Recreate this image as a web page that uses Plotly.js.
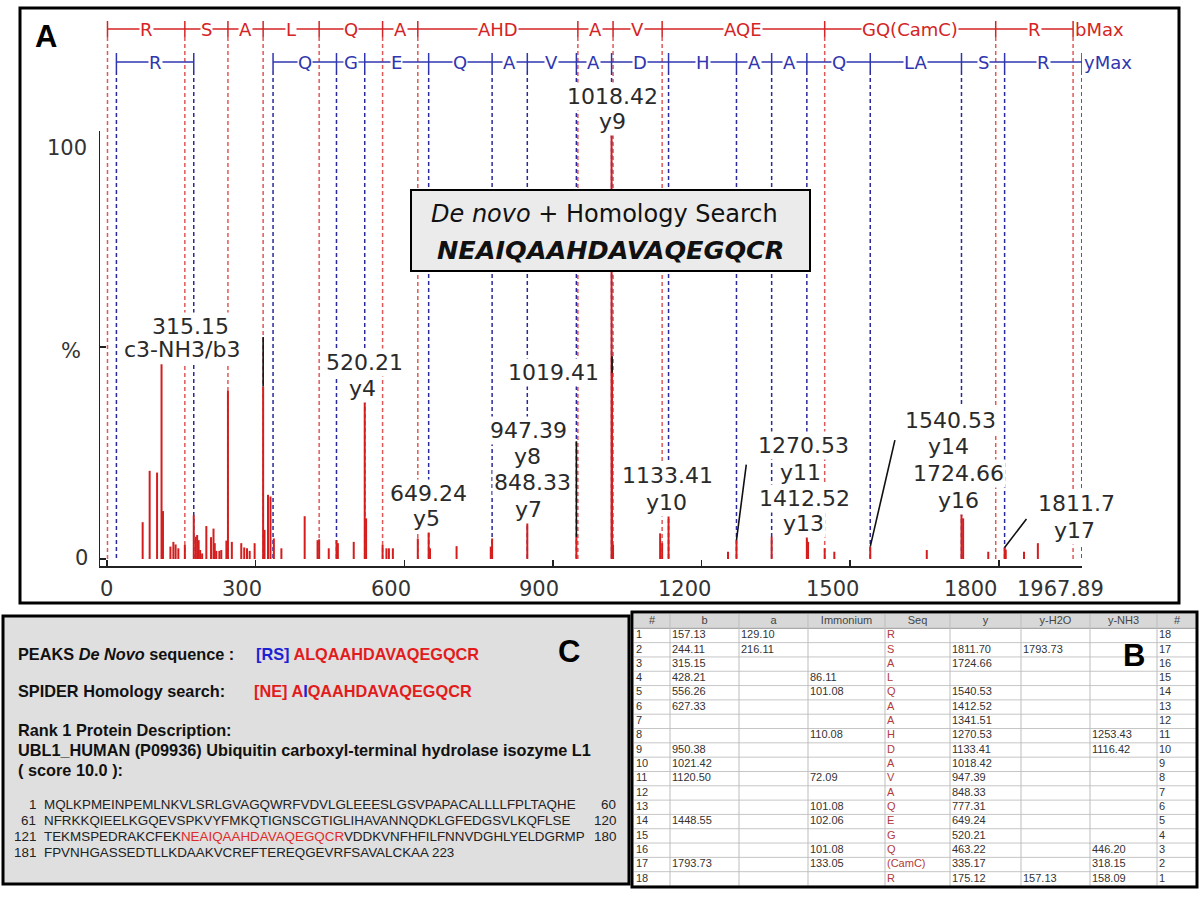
<!DOCTYPE html>
<html><head><meta charset="utf-8">
<script src="https://cdn.plot.ly/plotly-3.0.1.min.js"></script>
<style>html,body{margin:0;padding:0;background:#fff}</style>
</head><body>
<div id="chart" style="width:1200px;height:900px"></div>
<script>
// ---------------- DATA ----------------
const peakMz = [72, 86.11, 101.08, 110.08, 113, 128, 134, 138.5, 144, 157.13,
  175.12, 179, 182, 185, 188, 192, 200.5, 210, 215, 217.5, 220.6, 226.8, 230.7,
  241, 244.11, 252, 271, 277, 282.6, 288, 298, 315.15, 318, 325, 330, 336.8, 352,
  399, 425, 428.21, 447.6, 463.22, 466, 498, 520.21, 523, 556.26, 564, 569, 577,
  627.33, 649.24, 652, 705.6, 774.6, 777.31, 848.33, 947.39, 1018.42, 1019.41, 1021.4,
  1116.42, 1120.5, 1133.41, 1253.43, 1270.53, 1341.51, 1412.52, 1415, 1448.55, 1468,
  1540.53, 1654.6, 1724.66, 1728, 1778.7, 1811.7, 1814, 1850.8, 1878.8];
const peakIntensity = [8.6, 20.6, 20.2, 45.5, 11.2, 2.9, 4.0, 3.4, 2.5, 3.3,
  10.2, 5.2, 5.6, 4.4, 2.1, 1.3, 7.7, 5.1, 7.1, 3.7, 1.9, 1.9, 2.1,
  4.3, 39.3, 4.0, 3.7, 2.7, 2.5, 1.9, 3.7, 40.3, 6.8, 15.0, 14.6, 4.8, 2.5,
  10.0, 4.4, 4.6, 2.5, 4.4, 3.7, 4.0, 37.5, 9.5, 3.3, 2.5, 2.5, 2.5,
  4.8, 6.9, 2.5, 3.0, 2.9, 4.8, 9.5, 5.2, 100, 45, 3.3,
  6.0, 3.7, 11.1, 1.7, 4.4, 5.2, 5.2, 4.0, 2.5, 1.7,
  2.9, 2.1, 11.1, 9.5, 1.7, 2.7, 2.2, 1.7, 3.7];

const bIonMz = [1.01, 157.13, 244.11, 315.15, 428.21, 556.26, 627.33, 950.38, 1021.42, 1120.50, 1448.55, 1793.73, 1949.88];
const bIonLabels = ['R', 'S', 'A', 'L', 'Q', 'A', 'AHD', 'A', 'V', 'AQE', 'GQ(CamC)', 'R'];
const yIonMz = [19.02, 175.12, 335.17, 463.22, 520.21, 649.24, 777.31, 848.33, 947.39, 1018.42, 1133.41, 1270.53, 1341.51, 1412.52, 1540.53, 1724.66, 1811.70, 1967.80];
const yIonLabels = ['R', '', 'Q', 'G', 'E', 'Q', 'A', 'V', 'A', 'D', 'H', 'A', 'A', 'Q', 'LA', 'S', 'R'];

const xTickVals = [0, 300, 600, 900, 1200, 1500, 1800, 1967.89];
const xTickText = ['0', '300', '600', '900', '1200', '1500', '1800', '1967.89'];
const yTickVals = [0, 49.5, 100];
const yTickText = ['0', '%', '100'];

// leader lines: target peak (m/z, intensity)
const leaderMz = [315.15, 1019.41, 947.39, 1270.53, 1540.53, 1811.7];
const leaderIntensity = [40.3, 43.5, 5.2, 4.4, 2.9, 2.7];

// table B
const tableHeader = ['#', 'b', 'a', 'Immonium', 'Seq', 'y', 'y-H2O', 'y-NH3', '#'];
const tableIndex = ['1','2','3','4','5','6','7','8','9','10','11','12','13','14','15','16','17','18'];
const tableB = ['157.13','244.11','315.15','428.21','556.26','627.33','','','950.38','1021.42','1120.50','','','1448.55','','','1793.73',''];
const tableA = ['129.10','216.11','','','','','','','','','','','','','','','',''];
const tableImmonium = ['','','','86.11','101.08','','','110.08','','','72.09','','101.08','102.06','','101.08','133.05',''];
const tableSeq = ['R','S','A','L','Q','A','A','H','D','A','V','A','Q','E','G','Q','(CamC)','R'];
const tableY = ['','1811.70','1724.66','','1540.53','1412.52','1341.51','1270.53','1133.41','1018.42','947.39','848.33','777.31','649.24','520.21','463.22','335.17','175.12'];
const tableYH2O = ['','1793.73','','','','','','','','','','','','','','','','157.13'];
const tableYNH3 = ['','','','','','','','1253.43','1116.42','','','','','','','446.20','318.15','158.09'];
const tableIndexRev = ['18','17','16','15','14','13','12','11','10','9','8','7','6','5','4','3','2','1'];

// panel C texts
const deNovoSeq = 'ALQAAHDAVAQEGQCR';
const homologySeq = 'IQAAHDAVAQEGQCR';
const proteinSeqLines = [
  ['1', 'MQLKPMEINPEMLNKVLSRLGVAGQWRFVDVLGLEEESLGSVPAPACALLLLFPLTAQHE', '60'],
  ['61', 'NFRKKQIEELKGQEVSPKVYFMKQTIGNSCGTIGLIHAVANNQDKLGFEDGSVLKQFLSE', '120'],
  ['121', 'TEKMSPEDRAKCFEK|NEAIQAAHDAVAQEGQCR|VDDKVNFHFILFNNVDGHLYELDGRMP', '180'],
  ['181', 'FPVNHGASSEDTLLKDAAKVCREFTEREQGEVRFSAVALCKAA 223', '']
];

// ---------------- LAYOUT HELPERS ----------------
const PX = x => x / 1200;
const PY = y => 1 - y / 900;
const FA = 'DejaVu Sans';
const FC = 'Liberation Sans';
const RED = '#d42424', BLUE = '#2f36b0';

const shapes = [];
const annotations = [];
function note(o) { annotations.push(Object.assign({showarrow: false, xanchor: 'center', yanchor: 'middle'}, o)); }

// dashed ladder lines
bIonMz.forEach(m => shapes.push({type: 'line', xref: 'x', yref: 'paper', x0: m, x1: m, y0: PY(37), y1: PY(559),
  line: {color: '#e05858', width: 1.5, dash: '4px,3px'}, layer: 'below'}));
yIonMz.forEach(m => shapes.push({type: 'line', xref: 'x', yref: 'paper', x0: m, x1: m, y0: PY(71), y1: PY(559),
  line: {color: '#2a2a9c', width: 1.5, dash: '4px,3px'}, layer: 'below'}));

// ladder rows
const redRowY = 29, blueRowY = 62;
shapes.push({type: 'line', xref: 'x', yref: 'paper', x0: bIonMz[0], x1: bIonMz[bIonMz.length - 1], y0: PY(redRowY), y1: PY(redRowY), line: {color: RED, width: 1.3}});
bIonMz.forEach(m => shapes.push({type: 'line', xref: 'x', yref: 'paper', x0: m, x1: m, y0: PY(21), y1: PY(37), line: {color: RED, width: 1.5}}));
yIonLabels.forEach((lab, i) => { if (lab) shapes.push({type: 'line', xref: 'x', yref: 'paper', x0: yIonMz[i], x1: yIonMz[i + 1], y0: PY(blueRowY), y1: PY(blueRowY), line: {color: BLUE, width: 1.3}}); });
yIonMz.forEach(m => shapes.push({type: 'line', xref: 'x', yref: 'paper', x0: m, x1: m, y0: PY(53), y1: PY(71), line: {color: BLUE, width: 1.5}}));

bIonLabels.forEach((lab, i) => note({xref: 'x', yref: 'paper', x: (bIonMz[i] + bIonMz[i + 1]) / 2, y: PY(redRowY),
  text: lab, bgcolor: '#ffffff', borderpad: 0, font: {family: FA, size: 18, color: RED}}));
note({xref: 'x', yref: 'paper', x: bIonMz[bIonMz.length - 1], y: PY(redRowY), xanchor: 'left', xshift: 1,
  text: 'bMax', bgcolor: '#ffffff', borderpad: 0, font: {family: FA, size: 18, color: RED}});
yIonLabels.forEach((lab, i) => { if (lab) note({xref: 'x', yref: 'paper', x: (yIonMz[i] + yIonMz[i + 1]) / 2, y: PY(blueRowY),
  text: lab, bgcolor: '#ffffff', borderpad: 0, font: {family: FA, size: 18, color: BLUE}}); });
note({xref: 'x', yref: 'paper', x: yIonMz[yIonMz.length - 1], y: PY(blueRowY), xanchor: 'left', xshift: 1,
  text: 'yMax', bgcolor: '#ffffff', borderpad: 0, font: {family: FA, size: 18, color: BLUE}});

// peak labels (text, centre x px, centre y px)
const peakLabelLayout = [
  ['1018.42', 612, 96], ['y9', 612, 121],
  ['315.15', 190, 327], ['c3-NH3/b3', 182, 350],
  ['520.21', 364, 362], ['y4', 362, 388],
  ['1019.41', 553, 373],
  ['947.39', 528, 430], ['y8', 527, 456], ['848.33', 532, 482], ['y7', 528, 509],
  ['649.24', 428, 493], ['y5', 426, 518],
  ['1133.41', 667, 475], ['y10', 666, 502],
  ['1270.53', 803, 445], ['y11', 800, 472], ['1412.52', 805, 498], ['y13', 803, 523],
  ['1540.53', 950, 420], ['y14', 948, 447], ['1724.66', 958, 473], ['y16', 958, 500],
  ['1811.7', 1076, 503], ['y17', 1074, 530]
];
peakLabelLayout.forEach(([t, x, y]) => note({xref: 'paper', yref: 'paper', x: PX(x), y: PY(y), text: t,
  bgcolor: '#ffffff', borderpad: 1, font: {family: FA, size: 22, color: '#2a2a2a'}}));

// leader lines (pixel offsets of the label end)
const leaderOffset = [[0, -51], [0, -18], [0, -97], [10, -77], [25, -108], [23, -30]];
leaderMz.forEach((m, i) => annotations.push({xref: 'x', yref: 'y', x: m, y: leaderIntensity[i], ax: leaderOffset[i][0], ay: leaderOffset[i][1],
  text: '', showarrow: true, arrowhead: 0, arrowwidth: 1.6, arrowcolor: '#111', standoff: 0}));

// x tick labels
const tickLabelNudge = [0, -14, -13, -14, -17, -18, -28, -22];
xTickVals.forEach((t, i) => note({xref: 'x', yref: 'paper', x: t, y: PY(589), xshift: tickLabelNudge[i],
  text: xTickText[i], font: {family: FA, size: 21, color: '#333'}}));
// y tick labels
const yLabelPos = [[81, 558], [71, 351], [67, 148]];
yTickText.forEach((t, i) => note({xref: 'paper', yref: 'paper', x: PX(yLabelPos[i][0]), y: PY(yLabelPos[i][1]),
  text: t, font: {family: FA, size: 21, color: '#333'}}));

// De novo box
shapes.push({type: 'rect', xref: 'paper', yref: 'paper', x0: PX(411), x1: PX(810), y0: PY(271), y1: PY(190),
  fillcolor: '#ebebeb', line: {color: '#000', width: 2}, layer: 'above'});
note({xref: 'paper', yref: 'paper', x: PX(604), y: PY(214), text: '<i>De novo</i> + Homology Search',
  font: {family: FA, size: 24, color: '#111'}});
note({xref: 'paper', yref: 'paper', x: PX(610), y: PY(250), text: '<b><i>NEAIQAAHDAVAQEGQCR</i></b>',
  font: {family: FA, size: 25.5, color: '#111'}});

// panel A border + label
shapes.push({type: 'rect', xref: 'paper', yref: 'paper', x0: PX(20), x1: PX(1179), y0: PY(603), y1: PY(8),
  line: {color: '#000', width: 3}, layer: 'above'});
note({xref: 'paper', yref: 'paper', x: PX(46), y: PY(37), text: '<b>A</b>', font: {family: FC, size: 31, color: '#000'}});

// panel C
shapes.push({type: 'rect', xref: 'paper', yref: 'paper', x0: PX(3), x1: PX(629), y0: PY(884), y1: PY(616),
  fillcolor: '#dfdfdf', line: {color: '#000', width: 3}, layer: 'below'});
const cBold = {family: FC, size: 16.3, color: '#111'};
function leftText(text, x, y, font) {
  note({xref: 'paper', yref: 'paper', x: PX(x), y: PY(y), xanchor: 'left', text: text, font: font});
}
leftText('<b>PEAKS <i>De Novo</i> sequence :</b>', 16, 654, cBold);
leftText('<b><span style="color:#1c22d4">[RS]</span> <span style="color:#e21c1c">' + deNovoSeq + '</span></b>', 254, 654, cBold);
leftText('<b>SPIDER Homology search:</b>', 16, 691, cBold);
leftText('<b><span style="color:#e21c1c">[NE] A</span><span style="color:#1c22d4">' + homologySeq[0] + '</span><span style="color:#e21c1c">' + homologySeq.slice(1) + '</span></b>', 252, 691, cBold);
leftText('<b>Rank 1 Protein Description:</b>', 16, 730, cBold);
leftText('<b>UBL1_HUMAN (P09936) Ubiquitin carboxyl-terminal hydrolase isozyme L1</b>', 16, 750, cBold);
leftText('<b>( score 10.0 ):</b>', 16, 770, cBold);
const seqFont = {family: FC, size: 13.4, color: '#222'};
proteinSeqLines.forEach((ln, i) => {
  const y = 804 + i * 16;
  note({xref: 'paper', yref: 'paper', x: PX(38), y: PY(y), xanchor: 'right', text: ln[0], font: seqFont});
  const parts = ln[1].split('|');
  const txt = parts.length === 3 ? parts[0] + '<span style="color:#e02a2a">' + parts[1] + '</span>' + parts[2] : parts[0];
  leftText(txt, 42, y, seqFont);
  if (ln[2]) note({xref: 'paper', yref: 'paper', x: PX(618), y: PY(y), xanchor: 'right', text: ln[2], font: seqFont});
});
note({xref: 'paper', yref: 'paper', x: PX(569), y: PY(651), text: '<b>C</b>', font: {family: FC, size: 31, color: '#000'}});

// ---------------- TABLE B (drawn on its own cartesian subplot) ----------------
const colWidth = [36, 69, 69, 77, 65, 71, 69, 67, 40];
const colLeft = [];
colWidth.reduce((acc, w) => { colLeft.push(acc); return acc + w; }, 0);
const tableWidth = colWidth.reduce((a, b) => a + b, 0);
const tableCols = [tableIndex, tableB, tableA, tableImmonium, tableSeq, tableY, tableYH2O, tableYNH3, tableIndexRev];
const nRows = tableIndex.length;

// header fill + grid
shapes.push({type: 'rect', xref: 'x2', yref: 'y2', x0: 0, x1: tableWidth, y0: -0.5, y1: 0.5,
  fillcolor: '#d8d8d8', line: {width: 0}, layer: 'below'});
for (let r = 0; r <= nRows; r++) {
  shapes.push({type: 'line', xref: 'x2', yref: 'y2', x0: 0, x1: tableWidth, y0: r + 0.5, y1: r + 0.5,
    line: {color: r === 0 ? '#9a9a9a' : '#c6c6c6', width: 1}, layer: 'below'});
}
colLeft.slice(1).forEach(x => shapes.push({type: 'line', xref: 'x2', yref: 'y2', x0: x, x1: x, y0: -0.5, y1: nRows + 0.5,
  line: {color: '#bdbdbd', width: 1}, layer: 'below'}));

const cellX = [], cellY = [], cellText = [], cellColor = [];
tableCols.forEach((col, c) => col.forEach((v, r) => {
  cellX.push(colLeft[c] + 2); cellY.push(r + 1); cellText.push(v);
  cellColor.push(c === 4 ? '#b23a3a' : '#333333');
}));

// panel B border + label
shapes.push({type: 'rect', xref: 'paper', yref: 'paper', x0: PX(632), x1: PX(1197), y0: PY(887), y1: PY(612),
  line: {color: '#000', width: 3}, layer: 'above'});
note({xref: 'paper', yref: 'paper', x: PX(1134), y: PY(655), text: '<b>B</b>', font: {family: FC, size: 31, color: '#000'}});

// ---------------- TRACES ----------------
const stickX = [], stickY = [];
peakMz.forEach((m, i) => { stickX.push(m, m, null); stickY.push(0, peakIntensity[i], null); });

const traces = [
  {type: 'scatter', mode: 'lines', x: stickX, y: stickY, line: {color: '#d41e1e', width: 2},
   hoverinfo: 'skip', showlegend: false, xaxis: 'x', yaxis: 'y'},
  {type: 'scatter', mode: 'text', x: cellX, y: cellY, text: cellText, textposition: 'middle right',
   textfont: {family: FC, size: 11, color: cellColor}, hoverinfo: 'skip', showlegend: false,
   xaxis: 'x2', yaxis: 'y2', cliponaxis: false},
  {type: 'scatter', mode: 'text', x: colLeft.map((l, c) => l + colWidth[c] / 2), y: tableHeader.map(() => 0),
   text: tableHeader, textposition: 'middle center', textfont: {family: FC, size: 11, color: '#444'},
   hoverinfo: 'skip', showlegend: false, xaxis: 'x2', yaxis: 'y2', cliponaxis: false}
];

const layout = {
  width: 1200, height: 900, margin: {l: 0, r: 0, t: 0, b: 0},
  paper_bgcolor: '#ffffff', plot_bgcolor: 'rgba(0,0,0,0)', showlegend: false,
  xaxis: {domain: [PX(100), PX(1082)], range: [-14.1, 1967.89], showline: true, linecolor: '#222', linewidth: 1.5,
    ticks: 'inside', ticklen: 6, tickcolor: '#222', tickwidth: 1.5, tickvals: xTickVals, showticklabels: false,
    showgrid: false, zeroline: false, fixedrange: true},
  yaxis: {domain: [PY(566), PY(131)], range: [-1.635, 100], showline: true, linecolor: '#222', linewidth: 1.5,
    ticks: 'inside', ticklen: 6, tickcolor: '#222', tickwidth: 1.5, tickvals: yTickVals, showticklabels: false,
    showgrid: false, zeroline: false, fixedrange: true},
  xaxis2: {domain: [PX(634), PX(634 + tableWidth)], range: [0, tableWidth], visible: false, fixedrange: true, anchor: 'y2'},
  yaxis2: {domain: [PY(886), PY(614)], range: [nRows + 0.5, -0.5], visible: false, fixedrange: true, anchor: 'x2'},
  shapes: shapes,
  annotations: annotations
};

Plotly.newPlot('chart', traces, layout, {displayModeBar: false, staticPlot: true});
</script>
</body></html>
